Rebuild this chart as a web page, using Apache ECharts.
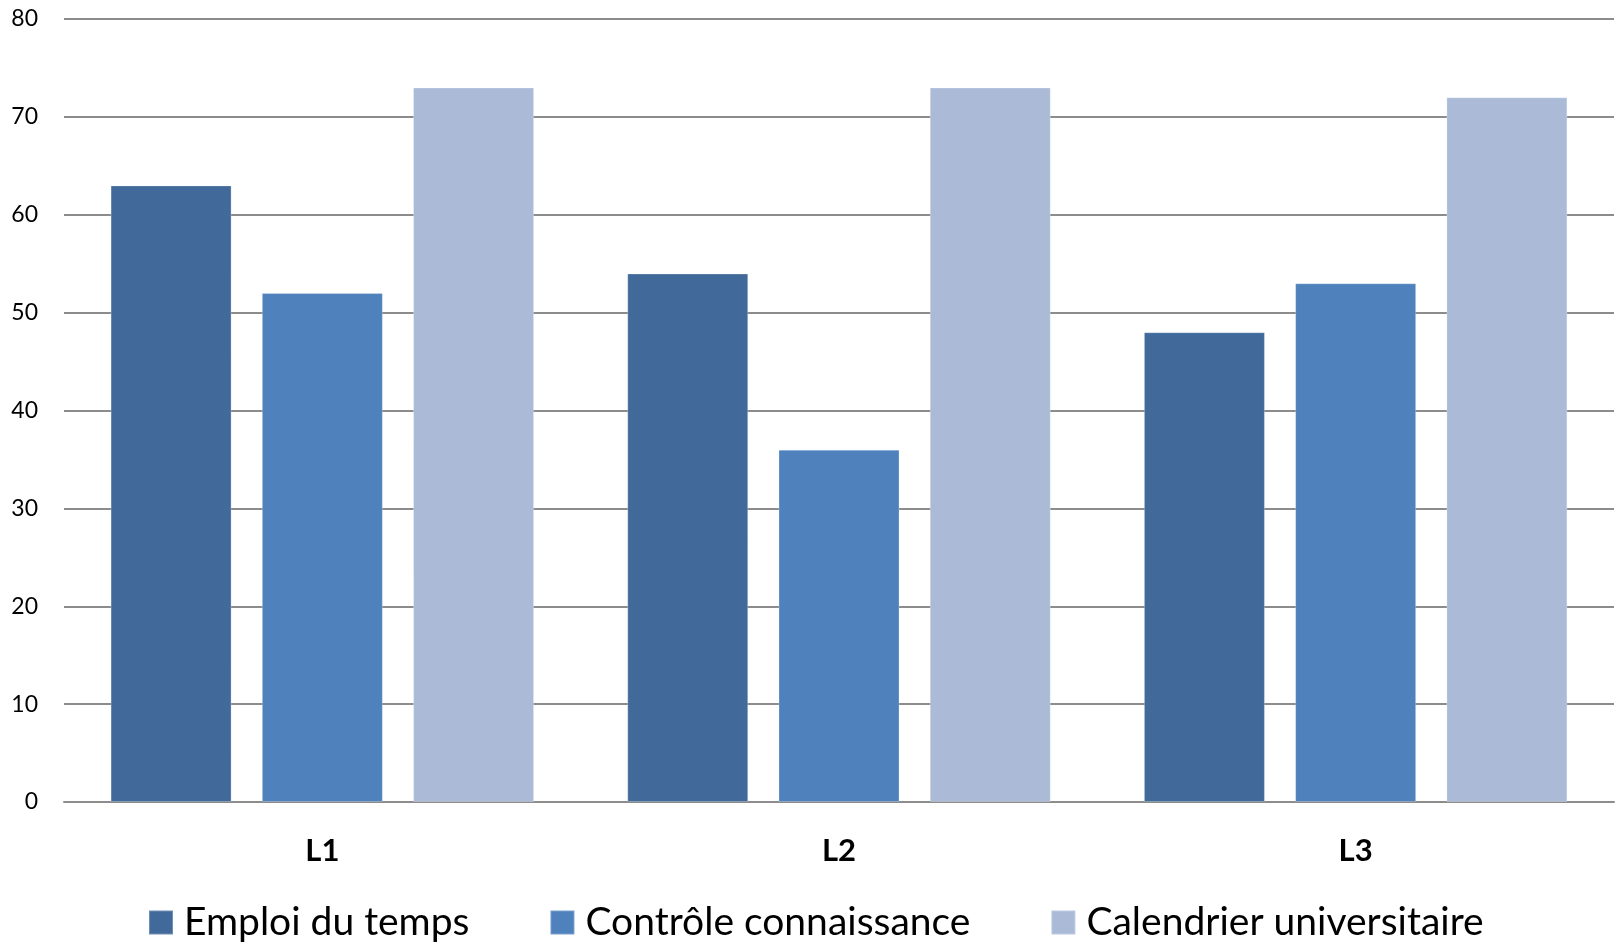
<!DOCTYPE html>
<html>
<head>
<meta charset="utf-8">
<script src="https://cdn.jsdelivr.net/npm/echarts@6/dist/echarts.min.js"></script>
<style>
  html, body { margin: 0; padding: 0; background: #fff; }
  #chart { width: 1617px; height: 943px; }
</style>
</head>
<body>
<div id="chart"></div>
<script>
// niveaux (catégories)
const niveaux = ["L1", "L2", "L3"];
// valeurs
const emploiDuTemps = [63, 54, 48];
const controleConnaissance = [52, 36, 53];
const calendrierUniversitaire = [73, 73, 72];
const yTicks = [0, 10, 20, 30, 40, 50, 60, 70, 80];

const fontFamily = "Lato, 'Open Sans', sans-serif";
const gridColor = "#8c8c8c";

let myChart = echarts.init(document.getElementById("chart"));

function barSerie(name, data, color) {
  return {
    name: name,
    type: "bar",
    data: data,
    barWidth: 121,
    barGap: "25%",
    itemStyle: {
      color: color,
      borderColor: "rgba(255,255,255,0.25)",
      borderWidth: 1
    }
  };
}

const option = {
  backgroundColor: "#ffffff",
  animation: false,
  grid: {
    left: 64,
    right: 3,
    top: 19,
    bottom: 141
  },
  legend: {
    data: ["Emploi du temps", "Contrôle connaissance", "Calendrier universitaire"],
    left: 143,
    top: 898,
    itemWidth: 24,
    itemHeight: 24,
    itemGap: 80,
    icon: "rect",
    textStyle: {
      fontFamily: fontFamily,
      fontSize: 39,
      color: "#000000",
      padding: [0, 0, 0, 6]
    }
  },
  xAxis: {
    type: "category",
    data: niveaux,
    axisTick: { show: false },
    axisLine: { lineStyle: { color: gridColor, width: 2 } },
    axisLabel: {
      margin: 33,
      fontFamily: fontFamily,
      fontWeight: "bold",
      fontSize: 31,
      color: "#000000"
    }
  },
  yAxis: {
    type: "value",
    min: yTicks[0],
    max: yTicks[yTicks.length - 1],
    interval: 10,
    axisLine: { show: false },
    axisTick: { show: false },
    splitLine: { lineStyle: { color: gridColor, width: 2 } },
    axisLabel: {
      margin: 26,
      fontFamily: fontFamily,
      fontSize: 23,
      color: "#000000"
    }
  },
  series: [
    barSerie("Emploi du temps", emploiDuTemps, "#416a9b"),
    barSerie("Contrôle connaissance", controleConnaissance, "#4f81bd"),
    barSerie("Calendrier universitaire", calendrierUniversitaire, "#aabad7")
  ]
};

myChart.setOption(option);
</script>
</body>
</html>
